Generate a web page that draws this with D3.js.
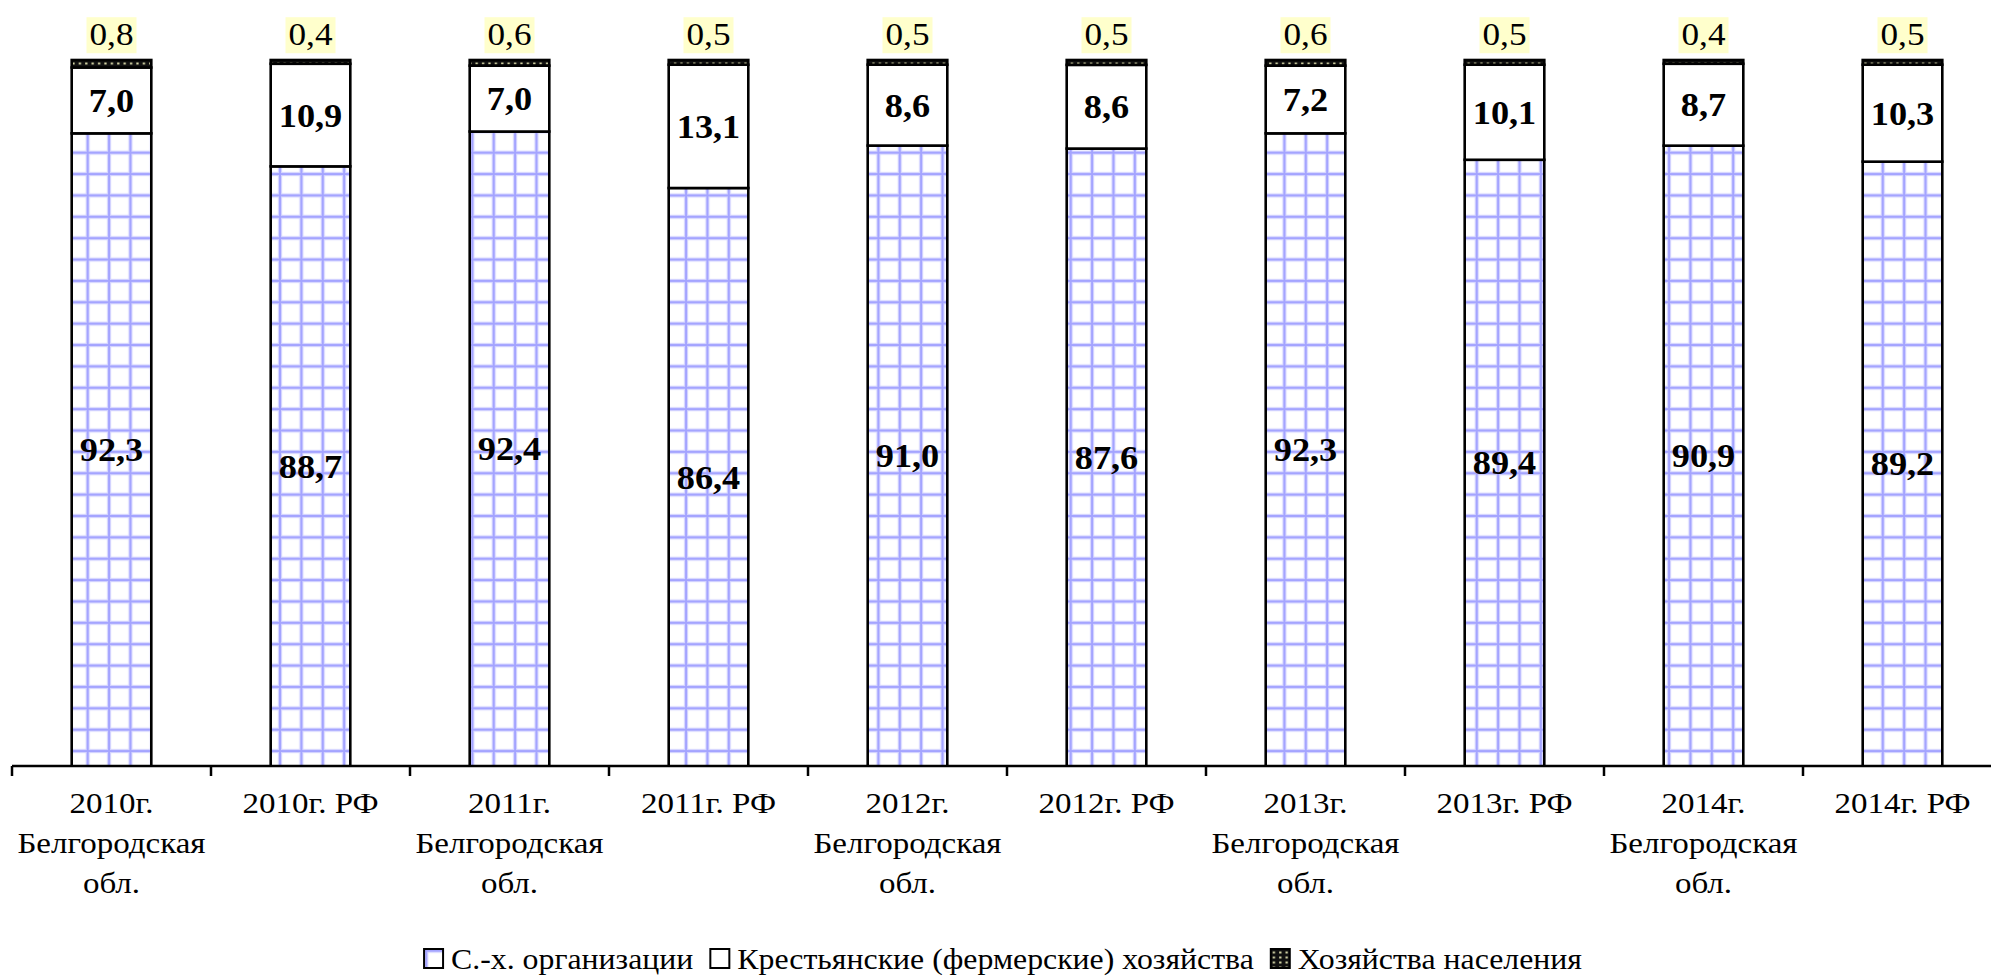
<!DOCTYPE html>
<html>
<head>
<meta charset="utf-8">
<script src="https://cdn.jsdelivr.net/npm/d3@7/dist/d3.min.js"></script>
<style>
  html, body { margin: 0; padding: 0; background: #fff; }
  svg { display: block; }
  text { font-family: 'Liberation Serif', 'DejaVu Serif', serif; }
</style>
</head>
<body>
<svg id="chart" width="1991" height="976"></svg>
<script>
// Category labels (one entry per bar, split into display lines)
const tickLabels = [
  ["2010г.", "Белгородская", "обл."],
  ["2010г. РФ"],
  ["2011г.", "Белгородская", "обл."],
  ["2011г. РФ"],
  ["2012г.", "Белгородская", "обл."],
  ["2012г. РФ"],
  ["2013г.", "Белгородская", "обл."],
  ["2013г. РФ"],
  ["2014г.", "Белгородская", "обл."],
  ["2014г. РФ"]
];
const categories = tickLabels.map(l => l.join(" "));

// Shares of production by type of producer, %
const orgs       = [92.3, 88.7, 92.4, 86.4, 91.0, 87.6, 92.3, 89.4, 90.9, 89.2];
const farms      = [7.0, 10.9, 7.0, 13.1, 8.6, 8.6, 7.2, 10.1, 8.7, 10.3];
const households = [0.8, 0.4, 0.6, 0.5, 0.5, 0.5, 0.6, 0.5, 0.4, 0.5];

const seriesNames = ["С.-х. организации", "Крестьянские (фермерские) хозяйства", "Хозяйства населения"];
const seriesKeys = ["orgs", "farms", "households"];

const rows = categories.map((c, i) => ({
  cat: c, orgs: orgs[i], farms: farms[i], households: households[i]
}));

const FONT = "'Liberation Serif', 'DejaVu Serif', serif";
const svg = d3.select("#chart");
const root = svg.append("g").attr("font-family", FONT);
const W = 1991, H = 976;
const axisY = 766;

// Slightly widened glyphs, like the original export
function widen(sel, k) {
  sel.each(function () {
    const len = this.getComputedTextLength();
    d3.select(this).attr("textLength", len * k).attr("lengthAdjust", "spacingAndGlyphs");
  });
}

// Patterns
const defs = svg.append("defs");
const gridStep = 21.37;
const grid = defs.append("pattern")
  .attr("id", "gridFill")
  .attr("patternUnits", "userSpaceOnUse")
  .attr("x", 87.7 - gridStep / 2).attr("y", 152.7 - gridStep / 2)
  .attr("width", gridStep).attr("height", gridStep);
grid.append("rect").attr("width", gridStep).attr("height", gridStep).attr("fill", "#fff");
[["#d4d4ff", 4.2], ["#a4a4ff", 2]].forEach(([col, w]) => {
  grid.append("line").attr("x1", gridStep / 2).attr("x2", gridStep / 2)
    .attr("y1", 0).attr("y2", gridStep).attr("stroke", col).attr("stroke-width", w);
  grid.append("line").attr("y1", gridStep / 2).attr("y2", gridStep / 2)
    .attr("x1", 0).attr("x2", gridStep).attr("stroke", col).attr("stroke-width", w);
});

const dots = defs.append("pattern")
  .attr("id", "dotFill")
  .attr("patternUnits", "userSpaceOnUse")
  .attr("x", 0).attr("y", 61.5)
  .attr("width", 6.4).attr("height", 5);
dots.append("rect").attr("width", 6.4).attr("height", 5).attr("fill", "#111");
dots.append("rect").attr("x", 2).attr("y", 1).attr("width", 2.2).attr("height", 2)
  .attr("fill", "#d8d8a8");

const fills = { orgs: "url(#gridFill)", farms: "#ffffff", households: "url(#dotFill)" };

// Scales: 100% stacked bars, value axis starting at 25%
const xOuter = d3.scaleBand().domain(categories).range([12, 2002]).padding(0);
const x = d3.scaleBand().domain(categories).range([12, 2002]).paddingInner(0.6).paddingOuter(0.3);
const y = d3.scaleLinear().domain([0.25, 1]).range([axisY, 60]);

const stacked = d3.stack().keys(seriesKeys).offset(d3.stackOffsetExpand)(rows);

defs.append("clipPath").attr("id", "plotClip")
  .append("rect").attr("x", 0).attr("y", 0).attr("width", W).attr("height", axisY);

const plot = root.append("g").attr("clip-path", "url(#plotClip)");
stacked.forEach(layer => {
  plot.append("g").selectAll("rect")
    .data(layer)
    .join("rect")
    .attr("x", d => x(d.data.cat))
    .attr("width", x.bandwidth())
    .attr("y", d => y(d[1]))
    .attr("height", d => y(d[0]) - y(d[1]))
    .attr("fill", fills[layer.key])
    .attr("stroke", "#000")
    .attr("stroke-width", 2.6);
});

// Axis line and category boundary ticks
const axis = root.append("g");
axis.append("line")
  .attr("x1", 12).attr("x2", W).attr("y1", axisY).attr("y2", axisY)
  .attr("stroke", "#000").attr("stroke-width", 2.5);
axis.selectAll("line.tick")
  .data(categories)
  .join("line")
  .attr("class", "tick")
  .attr("x1", d => xOuter(d)).attr("x2", d => xOuter(d))
  .attr("y1", axisY).attr("y2", axisY + 10)
  .attr("stroke", "#000").attr("stroke-width", 2.5);

const labelG = axis.selectAll("text.cat")
  .data(tickLabels)
  .join("text")
  .attr("class", "cat")
  .attr("text-anchor", "middle")
  .attr("font-size", 30)
  .attr("fill", "#000");
labelG.each(function (lines, i) {
  const cx = xOuter(categories[i]) + xOuter.bandwidth() / 2;
  d3.select(this).selectAll("tspan")
    .data(lines)
    .join("tspan")
    .attr("x", cx)
    .attr("y", (d, j) => 813 + j * 40)
    .text(d => d);
});
widen(labelG.selectAll("tspan"), 1.1);

// Value labels
const fmt = v => d3.format(".1f")(v).replace(".", ",");
const cx = d => x(d.data.cat) + x.bandwidth() / 2;
const vals = { orgs, farms, households };

const labels = root.append("g").attr("text-anchor", "middle").attr("fill", "#000");
["orgs", "farms"].forEach((key, k) => {
  const t = labels.append("g").selectAll("text")
    .data(stacked[k])
    .join("text")
    .attr("x", cx)
    .attr("y", d => (y(Math.max(d[0], 0.25)) + y(d[1])) / 2)
    .attr("dy", "0.35em")
    .attr("font-size", 33)
    .attr("font-weight", "bold")
    .text((d, i) => fmt(vals[key][i]));
  widen(t, 1.1);
});

// Households labels sit above the bars on a pale yellow box
const topLabels = labels.append("g").selectAll("g")
  .data(stacked[2])
  .join("g");
topLabels.append("rect").attr("fill", "#ffffcc");
const topText = topLabels.append("text")
  .attr("x", cx)
  .attr("y", d => y(d[1]) - 26)
  .attr("dy", "0.35em")
  .attr("font-size", 32)
  .text((d, i) => fmt(households[i]));
widen(topText, 1.1);
topLabels.each(function (d) {
  const g = d3.select(this);
  const node = g.select("text").node();
  const bb = node.getBBox();
  const w = +node.getAttribute("textLength") + 6;
  g.select("rect")
    .attr("x", cx(d) - w / 2).attr("y", bb.y + 1)
    .attr("width", w).attr("height", bb.height);
});

// Legend
const legend = root.append("g").attr("font-size", 30);
const iconFills = [fills.orgs, fills.farms, fills.households];
let lx = 0;
seriesNames.forEach((name, i) => {
  const item = legend.append("g").attr("transform", `translate(${lx},0)`);
  item.append("rect")
    .attr("x", 0).attr("y", -20).attr("width", 19).attr("height", 19)
    .attr("fill", iconFills[i]).attr("stroke", "#000").attr("stroke-width", 2);
  const t = item.append("text").attr("x", 27).attr("y", 0).text(name);
  widen(t, 1.06);
  lx += 27 + (+t.attr("textLength")) + 17;
});
const legendW = lx - 17;
legend.attr("transform", `translate(${(1003 - legendW / 2)},969)`);
</script>
</body>
</html>
